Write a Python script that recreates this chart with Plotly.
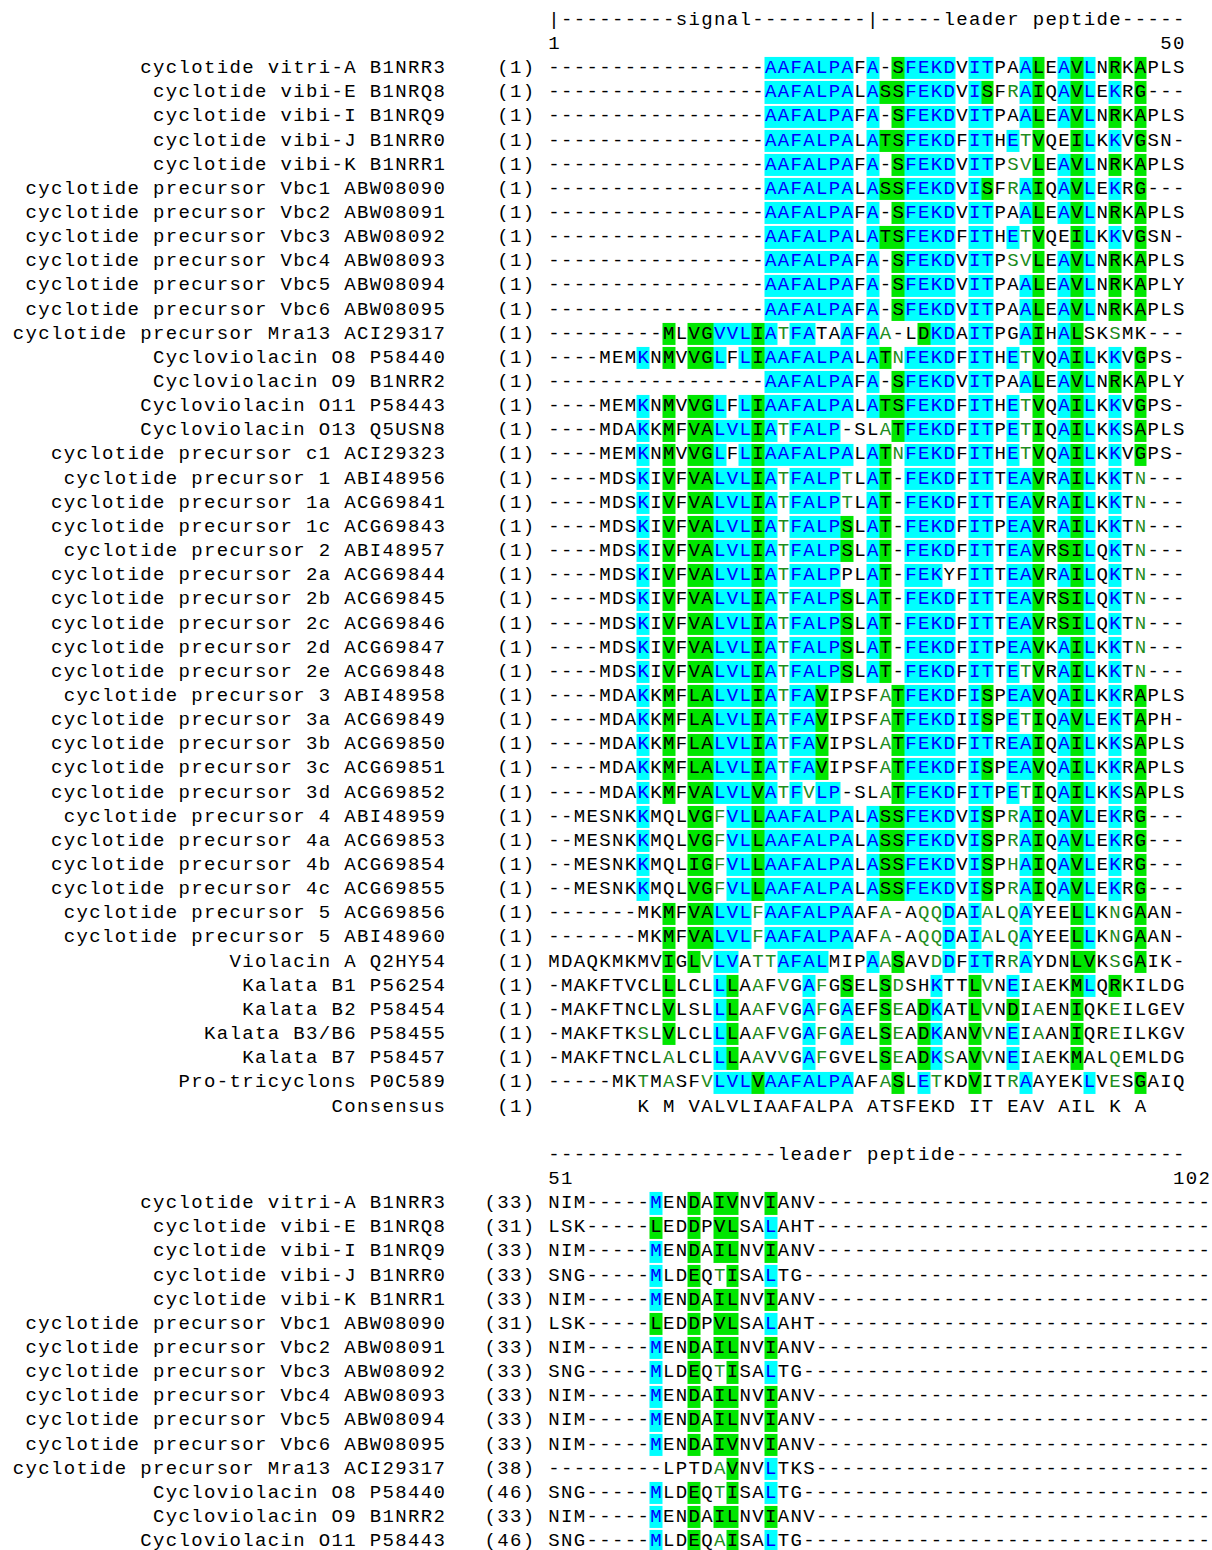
import plotly.graph_objects as go

# ---------------- data ----------------
names = [
    "cyclotide vitri-A B1NRR3",
    "cyclotide vibi-E B1NRQ8",
    "cyclotide vibi-I B1NRQ9",
    "cyclotide vibi-J B1NRR0",
    "cyclotide vibi-K B1NRR1",
    "cyclotide precursor Vbc1 ABW08090",
    "cyclotide precursor Vbc2 ABW08091",
    "cyclotide precursor Vbc3 ABW08092",
    "cyclotide precursor Vbc4 ABW08093",
    "cyclotide precursor Vbc5 ABW08094",
    "cyclotide precursor Vbc6 ABW08095",
    "cyclotide precursor Mra13 ACI29317",
    "Cycloviolacin O8 P58440",
    "Cycloviolacin O9 B1NRR2",
    "Cycloviolacin O11 P58443",
    "Cycloviolacin O13 Q5USN8",
    "cyclotide precursor c1 ACI29323",
    "cyclotide precursor 1 ABI48956",
    "cyclotide precursor 1a ACG69841",
    "cyclotide precursor 1c ACG69843",
    "cyclotide precursor 2 ABI48957",
    "cyclotide precursor 2a ACG69844",
    "cyclotide precursor 2b ACG69845",
    "cyclotide precursor 2c ACG69846",
    "cyclotide precursor 2d ACG69847",
    "cyclotide precursor 2e ACG69848",
    "cyclotide precursor 3 ABI48958",
    "cyclotide precursor 3a ACG69849",
    "cyclotide precursor 3b ACG69850",
    "cyclotide precursor 3c ACG69851",
    "cyclotide precursor 3d ACG69852",
    "cyclotide precursor 4 ABI48959",
    "cyclotide precursor 4a ACG69853",
    "cyclotide precursor 4b ACG69854",
    "cyclotide precursor 4c ACG69855",
    "cyclotide precursor 5 ACG69856",
    "cyclotide precursor 5 ABI48960",
    "Violacin A Q2HY54",
    "Kalata B1 P56254",
    "Kalata B2 P58454",
    "Kalata B3/B6 P58455",
    "Kalata B7 P58457",
    "Pro-tricyclons P0C589",
    "Consensus",
]

block1_start = ["(1)"] * 44

block1_seq = [
    "-----------------AAFALPAFA-SFEKDVITPAALEAVLNRKAPLS",
    "-----------------AAFALPALASSFEKDVISFRAIQAVLEKRG---",
    "-----------------AAFALPAFA-SFEKDVITPAALEAVLNRKAPLS",
    "-----------------AAFALPALATSFEKDFITHETVQEILKKVGSN-",
    "-----------------AAFALPAFA-SFEKDVITPSVLEAVLNRKAPLS",
    "-----------------AAFALPALASSFEKDVISFRAIQAVLEKRG---",
    "-----------------AAFALPAFA-SFEKDVITPAALEAVLNRKAPLS",
    "-----------------AAFALPALATSFEKDFITHETVQEILKKVGSN-",
    "-----------------AAFALPAFA-SFEKDVITPSVLEAVLNRKAPLS",
    "-----------------AAFALPAFA-SFEKDVITPAALEAVLNRKAPLY",
    "-----------------AAFALPAFA-SFEKDVITPAALEAVLNRKAPLS",
    "---------MLVGVVLIATFATAAFAA-LDKDAITPGAIHALSKSMK---",
    "----MEMKNMVVGLFLIAAFALPALATNFEKDFITHETVQAILKKVGPS-",
    "-----------------AAFALPAFA-SFEKDVITPAALEAVLNRKAPLY",
    "----MEMKNMVVGLFLIAAFALPALATSFEKDFITHETVQAILKKVGPS-",
    "----MDAKKMFVALVLIATFALP-SLATFEKDFITPETIQAILKKSAPLS",
    "----MEMKNMVVGLFLIAAFALPALATNFEKDFITHETVQAILKKVGPS-",
    "----MDSKIVFVALVLIATFALPTLAT-FEKDFITTEAVRAILKKTN---",
    "----MDSKIVFVALVLIATFALPTLAT-FEKDFITTEAVRAILKKTN---",
    "----MDSKIVFVALVLIATFALPSLAT-FEKDFITPEAVRAILKKTN---",
    "----MDSKIVFVALVLIATFALPSLAT-FEKDFITTEAVRSILQKTN---",
    "----MDSKIVFVALVLIATFALPPLAT-FEKYFITTEAVRAILQKTN---",
    "----MDSKIVFVALVLIATFALPSLAT-FEKDFITTEAVRSILQKTN---",
    "----MDSKIVFVALVLIATFALPSLAT-FEKDFITTEAVRSILQKTN---",
    "----MDSKIVFVALVLIATFALPSLAT-FEKDFITPEAVKAILKKTN---",
    "----MDSKIVFVALVLIATFALPSLAT-FEKDFITTETVRAILKKTN---",
    "----MDAKKMFLALVLIATFAVIPSFATFEKDFISPEAVQAILKKRAPLS",
    "----MDAKKMFLALVLIATFAVIPSFATFEKDIISPETIQAVLEKTAPH-",
    "----MDAKKMFLALVLIATFAVIPSLATFEKDFITREAIQAILKKSAPLS",
    "----MDAKKMFLALVLIATFAVIPSFATFEKDFISPEAVQAILKKRAPLS",
    "----MDAKKMFVALVLVATFVLP-SLATFEKDFITPETIQAILKKSAPLS",
    "--MESNKKMQLVGFVLLAAFALPALASSFEKDVISPRAIQAVLEKRG---",
    "--MESNKKMQLVGFVLLAAFALPALASSFEKDVISPRAIQAVLEKRG---",
    "--MESNKKMQLIGFVLLAAFALPALASSFEKDVISPHAIQAVLEKRG---",
    "--MESNKKMQLVGFVLLAAFALPALASSFEKDVISPRAIQAVLEKRG---",
    "-------MKMFVALVLFAAFALPAAFA-AQQDAIALQAYEELLKNGAAN-",
    "-------MKMFVALVLFAAFALPAAFA-AQQDAIALQAYEELLKNGAAN-",
    "MDAQKMKMVIGLVLVATTAFALMIPAASAVDDFITRRAYDNLVKSGAIK-",
    "-MAKFTVCLLLCLLLAAFVGAFGSELSDSHKTTLVNEIAEKMLQRKILDG",
    "-MAKFTNCLVLSLLLAAFVGAFGAEFSEADKATLVNDIAENIQKEILGEV",
    "-MAKFTKSLVLCLLLAAFVGAFGAELSEADKANVVNEIAANIQREILKGV",
    "-MAKFTNCLALCLLLAAVVGAFGVELSEADKSAVVNEIAEKMALQEMLDG",
    "-----MKTMASFVLVLVAAFALPAAFASLETKDVITRAAYEKLVESGAIQ",
    "       K M VALVLIAAFALPA ATSFEKD IT EAV AIL K A   ",
]

# shading class per residue: c = cyan box / blue letter, g = green box,
# t = green letter only, . = plain
block1_cls = [
    ".................ccccccc.c.gcccc.cc..cg.cgc.g.g...",
    ".................ccccccc.cggcccc.cg.tcg.cgc.c.g...",
    ".................ccccccc.c.gcccc.cc..cg.cgc.g.g...",
    ".................ccccccc.cggcccc.cc.ctg..gc.c.g...",
    ".................ccccccc.c.gcccc.cc.ttg.cgc.g.g...",
    ".................ccccccc.cggcccc.cg.tcg.cgc.c.g...",
    ".................ccccccc.c.gcccc.cc..cg.cgc.g.g...",
    ".................ccccccc.cggcccc.cc.ctg..gc.c.g...",
    ".................ccccccc.c.gcccc.cc.ttg.cgc.g.g...",
    ".................ccccccc.c.gcccc.cc..cg.cgc.g.g...",
    ".................ccccccc.c.gcccc.cc..cg.cgc.g.g...",
    ".........g.ggcccgctcc..c.ct..gcc.cc..cg.cg..t.....",
    ".......c.g.ggc.cgccccccc.cgtcccc.cc.ctg.cgc.c.g...",
    ".................ccccccc.c.gcccc.cc..cg.cgc.g.g...",
    ".......c.g.ggc.cgccccccc.cggcccc.cc.ctg.cgc.c.g...",
    ".......c.g.ggcccgctcccc...tgcccc.cc.ctg.cgc.c.g...",
    ".......c.g.ggc.cgccccccc.cgtcccc.cc.ctg.cgc.c.g...",
    ".......c.g.ggcccgctcccct.cg.cccc.cc.ccg.cgc.c.t...",
    ".......c.g.ggcccgctcccct.cg.cccc.cc.ccg.cgc.c.t...",
    ".......c.g.ggcccgctccccg.cg.cccc.cc.ccg.cgc.c.t...",
    ".......c.g.ggcccgctccccg.cg.cccc.cc.ccg.ggc.c.t...",
    ".......c.g.ggcccgctcccc..cg.ccc..cc.ccg.cgc.c.t...",
    ".......c.g.ggcccgctccccg.cg.cccc.cc.ccg.ggc.c.t...",
    ".......c.g.ggcccgctccccg.cg.cccc.cc.ccg.ggc.c.t...",
    ".......c.g.ggcccgctccccg.cg.cccc.cc.ccg.cgc.c.t...",
    ".......c.g.ggcccgctccccg.cg.cccc.cc.ctg.cgc.c.t...",
    ".......c.g.ggcccgctccg....tgcccc.cg.ccg.cgc.c.g...",
    ".......c.g.ggcccgctccg....tgcccc.cg.ctg.cgc.c.g...",
    ".......c.g.ggcccgctccg....tgcccc.cc.ccg.cgc.c.g...",
    ".......c.g.ggcccgctccg....tgcccc.cg.ccg.cgc.c.g...",
    ".......c.g.ggcccgctctcc...tgcccc.cc.ctg.cgc.c.g...",
    ".......c...ggtccgccccccc.cggcccc.cg.tcg.cgc.c.g...",
    ".......c...ggtccgccccccc.cggcccc.cg.tcg.cgc.c.g...",
    ".......c...ggtccgccccccc.cggcccc.cg.tcg.cgc.c.g...",
    ".......c...ggtccgccccccc.cggcccc.cg.tcg.cgc.c.g...",
    ".........g.ggccctccccccc..t..ttc.ct.tc...gc.t.g...",
    ".........g.ggccctccccccc..t..ttc.ct.tc...gc.t.g...",
    ".........g.gtcc.ttcccc...ctg..tc.cc.tc...gg.t.g...",
    ".........g...cg.t.t.ct.g..gt..c..gt.c.t..gc.g.....",
    ".........g...cg.t.t.ct.c..gt.gc..gt.g.t..g..t.....",
    ".......t.g...cg.t.t.ct.c..gt.gc..gt.c.t..g..t.....",
    ".........t...cg.t.t.ct....gt.gct.gt.c.t..g..t.....",
    ".......t.t..tcccgccccccc..tg.ct..g..tc....c.t.g...",
    "..................................................",
]

block2_start = ["(33)", "(31)", "(33)", "(33)", "(33)", "(31)", "(33)", "(33)",
                "(33)", "(33)", "(33)", "(38)", "(46)", "(33)", "(46)"]

block2_seq = [
    "NIM-----MENDAIVNVIANV-------------------------------",
    "LSK-----LEDDPVLSALAHT-------------------------------",
    "NIM-----MENDAILNVIANV-------------------------------",
    "SNG-----MLDEQTISALTG--------------------------------",
    "NIM-----MENDAILNVIANV-------------------------------",
    "LSK-----LEDDPVLSALAHT-------------------------------",
    "NIM-----MENDAILNVIANV-------------------------------",
    "SNG-----MLDEQTISALTG--------------------------------",
    "NIM-----MENDAILNVIANV-------------------------------",
    "NIM-----MENDAILNVIANV-------------------------------",
    "NIM-----MENDAIVNVIANV-------------------------------",
    "---------LPTDAVNVLTKS-------------------------------",
    "SNG-----MLDEQTISALTG--------------------------------",
    "NIM-----MENDAILNVIANV-------------------------------",
    "SNG-----MLDEQAISALTG--------------------------------",
]

block2_cls = [
    "........c..g.gg..g...",
    "........g..g.gg..c...",
    "........c..g.gg..g...",
    "........c..g.tg..c..",
    "........c..g.gg..g...",
    "........g..g.gg..c...",
    "........c..g.gg..g...",
    "........c..g.tg..c..",
    "........c..g.gg..g...",
    "........c..g.gg..g...",
    "........c..g.gg..g...",
    ".............tg..c...",
    "........c..g.tg..c..",
    "........c..g.gg..g...",
    "........c..g.tg..c..",
]

header1 = "|---------signal---------|-----leader peptide-----"
header2 = "------------------leader peptide------------------"
ruler1 = ["1", "50"]
ruler2 = ["51", "102"]

# ---------------- layout model ----------------
FIG_W, FIG_H = 1212, 1550
COL_LEFT = 547.5     # pixel left edge of alignment column 1
CW = 12.75           # pixel width of a character cell
LINE0 = 20.0         # pixel centre of first text line
LH = 24.15           # line pitch
N_LINES = 64
N_COLS = 52

TXT_COL = {"c": "#0000FF", "g": "#000000", "t": "#1E8C1E", ".": "#000000"}
BG_VAL = {"c": 1, "g": 2}

texts = {k: {"x": [], "y": [], "t": []} for k in TXT_COL}
z = [[None] * N_COLS for _ in range(N_LINES)]
problems = []


def put(s, first_col, line, cls=None):
    for i, ch in enumerate(s):
        k = "."
        if cls is not None and i < len(cls):
            k = cls[i]
        col = first_col + i
        if k in BG_VAL and 1 <= col <= N_COLS:
            z[line][col - 1] = BG_VAL[k]
        if ch == " ":
            continue
        texts[k]["x"].append(col)
        texts[k]["y"].append(line)
        texts[k]["t"].append(ch)


def put_right(s, last_col, line):
    put(s, last_col - len(s) + 1, line)


# block 1
put(header1, 1, 0)
put(ruler1[0], 1, 1)
put_right(ruler1[1], 50, 1)
for i, (nm, st, sq, cl) in enumerate(zip(names, block1_start, block1_seq, block1_cls)):
    line = 2 + i
    if len(sq) != 50 or len(cl) != 50:
        problems.append("b1 row %d: %d/%d" % (i + 1, len(sq), len(cl)))
    put_right(nm, -8, line)
    put_right(st, -1, line)
    put(sq, 1, line, cl)

# block 2
put(header2, 1, 47)
put(ruler2[0], 1, 48)
put_right(ruler2[1], 52, 48)
for i, (st, sq, cl) in enumerate(zip(block2_start, block2_seq, block2_cls)):
    line = 49 + i
    if len(sq) != 52:
        problems.append("b2 row %d: %d" % (i + 1, len(sq)))
    put_right(names[i], -8, line)
    put_right(st, -1, line)
    put(sq, 1, line, cl)

fig = go.Figure()
fig.add_trace(go.Heatmap(
    x=list(range(1, N_COLS + 1)), y=list(range(N_LINES)), z=z,
    zmin=1, zmax=2,
    colorscale=[[0, "#00FFFF"], [0.5, "#00FFFF"], [0.5, "#00E600"], [1, "#00E600"]],
    showscale=False, ygap=2, xgap=0, hoverinfo="skip",
))
for k, col in TXT_COL.items():
    d = texts[k]
    fig.add_trace(go.Scatter(
        x=d["x"], y=d["y"], text=d["t"], mode="text",
        textposition="middle center", cliponaxis=False,
        textfont=dict(family="Liberation Mono, DejaVu Sans Mono, monospace", size=19, color=col),
        hoverinfo="skip", showlegend=False,
    ))

x0 = 0.5 - COL_LEFT / CW
x1 = 0.5 + (FIG_W - COL_LEFT) / CW
y_top = -LINE0 / LH
y_bot = (FIG_H - LINE0) / LH

fig.update_layout(
    width=FIG_W, height=FIG_H, autosize=False,
    margin=dict(l=0, r=0, t=0, b=0, pad=0),
    paper_bgcolor="white", plot_bgcolor="white",
    xaxis=dict(range=[x0, x1], visible=False, fixedrange=True),
    yaxis=dict(range=[y_bot, y_top], visible=False, fixedrange=True),
    showlegend=False,
)
if problems:
    fig.add_annotation(text="; ".join(problems), x=0.01, y=0.99, xref="paper", yref="paper",
                       showarrow=False, font=dict(color="red", size=14), xanchor="left")

fig.write_html(
    "out.html",
    config={"displayModeBar": False, "staticPlot": True},
    post_script="document.body.style.margin='0';document.body.style.overflow='hidden';",
)
